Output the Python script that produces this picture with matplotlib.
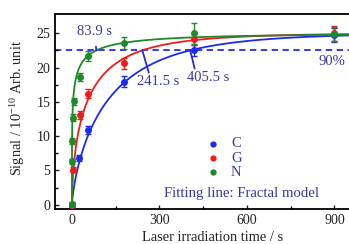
import matplotlib

matplotlib.use("Agg")
import matplotlib.pyplot as plt  # noqa: E402
import numpy as np  # noqa: E402

C_BLUE = "#1c2bf0"
C_RED = "#f01c1c"
C_GREEN = "#1f8a2a"
C_TXT = "#3a3a9a"

plt.rcParams.update(
    {
        "font.family": ["Liberation Serif", "DejaVu Serif"],
        "font.size": 10,
        "xtick.direction": "in",
        "ytick.direction": "in",
        "mathtext.fontset": "custom",
        "mathtext.rm": "Liberation Serif",
    }
)

# --- data -------------------------------------------------------------------
t_C = [0, 24, 56, 177, 420, 900]
y_C = [0.0, 6.8, 10.9, 17.9, 22.5, 24.7]
e_C = [0.3, 0.4, 0.6, 0.8, 0.8, 1.0]

t_G = [0, 4, 27, 56, 177, 420, 900]
y_G = [0.0, 5.1, 13.1, 16.2, 20.6, 24.2, 25.0]
e_G = [0.3, 0.4, 0.6, 0.7, 0.8, 0.9, 1.1]

t_N = [0, 0.5, 1, 2, 7, 27, 56, 177, 420, 900]
y_N = [0.1, 6.3, 9.3, 12.7, 15.1, 18.6, 21.7, 23.6, 25.0, 24.9]
e_N = [0.3, 0.4, 0.4, 0.5, 0.5, 0.6, 0.7, 0.9, 1.5, 1.0]

# fractal fit y = A * (1 - exp(-ln10 * (t / t90)^n)), values from annotations
A_fit = 25.0
t90 = {"C": 405.5, "G": 241.5, "N": 83.9}
n_fit = {"C": 0.75, "G": 0.6, "N": 0.3}
level_90 = 22.5

fig = plt.figure(figsize=(3.49, 2.44), dpi=100)
ax = fig.add_axes([0.1576, 0.1422, 0.9026, 0.8004])

tt = np.concatenate([np.linspace(0, 2, 400), np.linspace(2, 1000, 1200)])
for key, col in (("C", C_BLUE), ("G", C_RED), ("N", C_GREEN)):
    fit = A_fit * (1 - np.exp(-np.log(10) * (tt / t90[key]) ** n_fit[key]))
    ax.plot(tt, fit, color=col, lw=1.3, zorder=2)

for t, y, e, col in ((t_C, y_C, e_C, C_BLUE), (t_G, y_G, e_G, C_RED), (t_N, y_N, e_N, C_GREEN)):
    ax.errorbar(t, y, yerr=e, fmt="o", ms=4, color=col, ecolor=col, elinewidth=1,
                capsize=2, capthick=1, zorder=3)

ax.axhline(level_90, color="#2a2ae0", ls=(0, (3.5, 2.5)), lw=1.3, zorder=1)

# annotations
ax.annotate("83.9 s", xy=(t90["N"], level_90), xytext=(76, 25.2), color=C_TXT,
            fontsize=10.5, ha="center", va="center",
            arrowprops=dict(arrowstyle="-", color="#2a2ad0", lw=1.3, shrinkA=4, shrinkB=0))
ax.annotate("241.5 s", xy=(t90["G"], level_90), xytext=(224, 17.9), color=C_TXT,
            fontsize=10.5, ha="left", va="center",
            arrowprops=dict(arrowstyle="-", color="#2a2ad0", lw=1.3, shrinkA=0, shrinkB=0,
                            relpos=(0.3, 0.9)))
ax.annotate("405.5 s", xy=(t90["C"], level_90), xytext=(394, 18.5), color=C_TXT,
            fontsize=10.5, ha="left", va="center",
            arrowprops=dict(arrowstyle="-", color="#2a2ad0", lw=1.3, shrinkA=0, shrinkB=0,
                            relpos=(0.2, 1.0)))
ax.text(845, 20.9, "90%", color=C_TXT, fontsize=10.5, ha="left", va="center")

# legend as drawn
for i, (lab, col) in enumerate((("C", C_BLUE), ("G", C_RED), ("N", C_GREEN))):
    yy = 8.9 - i * 2.1
    ax.plot([482], [yy], "o", ms=3.5, color=col)
    ax.text(545, yy, lab, color=C_TXT, fontsize=10.5, ha="left", va="center")
ax.text(315, 1.7, "Fitting line: Fractal model", color=C_TXT, fontsize=10.6,
        ha="left", va="center")

ax.set_xlim(-58, 1022)
ax.set_ylim(-0.67, 27.8)
ax.set_xticks([0, 300, 600, 900])
ax.set_xticks([150, 450, 750], minor=True)
ax.set_yticks([0, 5, 10, 15, 20, 25])
ax.set_yticks(np.arange(2.5, 27.5, 5), minor=True)
ax.tick_params(which="major", length=3, width=1, labelsize=10, colors="#222222")
ax.tick_params(which="minor", length=2, width=1)
for s in ax.spines.values():
    s.set_linewidth(1.3)
ax.set_xlabel("Laser irradiation time / s", fontsize=10.4, color="#222222", labelpad=2.5)
ax.set_ylabel("Signal / 10$^{-10}$ Arb. unit", fontsize=10.4, color="#222222")
ax.yaxis.set_label_coords(-0.088, 0.52)

fig.savefig("out.png", dpi=100)
